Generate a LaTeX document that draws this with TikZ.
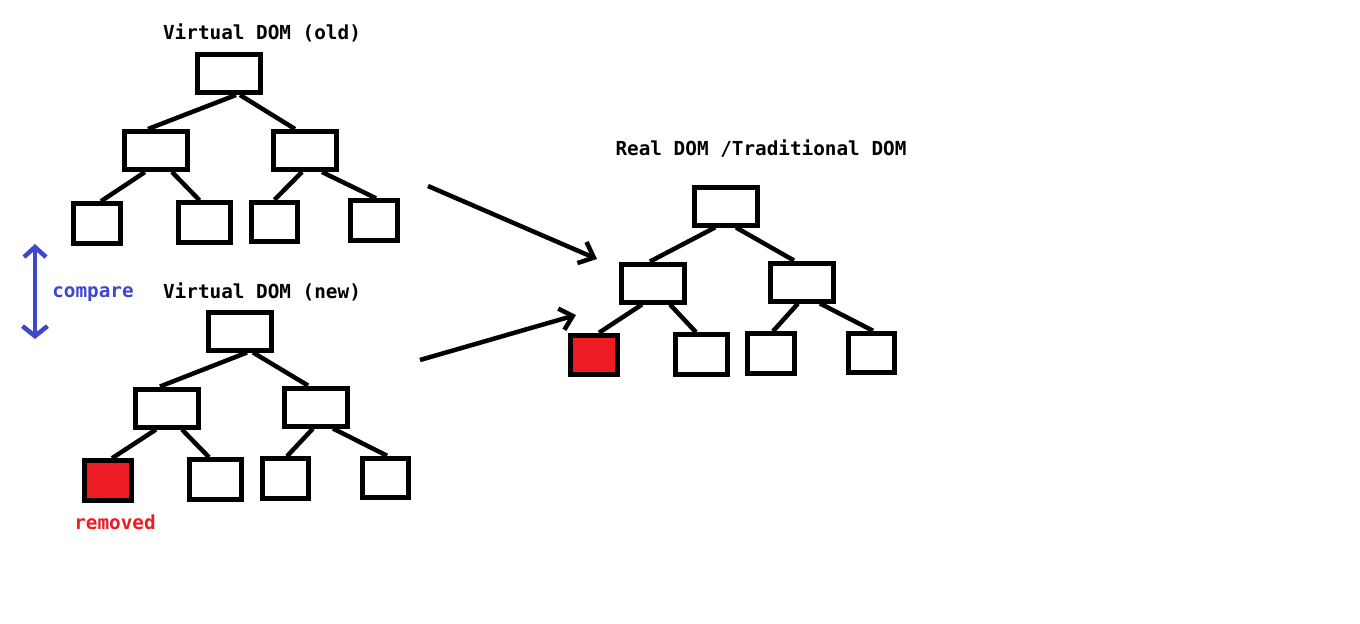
\documentclass[tikz,border=0pt]{standalone}
\usepackage{fontspec}
\setmonofont{DejaVu Sans Mono}
\usetikzlibrary{arrows.meta, positioning, calc}
\definecolor{paintred}{HTML}{ED1C24}
\definecolor{paintblue}{HTML}{3F48CC}

\begin{document}
\begin{tikzpicture}[x=0.02cm,y=-0.02cm,
		box/.style={rectangle,draw,line width=.1cm,minimum width=1.26cm,minimum height=.76cm,inner sep=0pt},
		leaf/.style={box,minimum width=.93cm,minimum height=.79cm},
		wide/.style={leaf,minimum width=1.03cm},
		gone/.style={leaf,fill=paintred},
		edge/.style={line width=.09cm},
		lbl/.style={anchor=base,font=\ttfamily\bfseries\fontsize{11}{13}\selectfont}]
		\useasboundingbox (0,0) rectangle (1360,623);
		
		% old virtual tree
		\node(o1) at (229,73.5)[box]{};
		\node(o2) at (156,150.5)[box]{};
		\node(o3) at (305,150.5)[box]{};
		\node(o4) at (97,223.5)[leaf]{};
		\node(o5) at (204.5,222.5)[wide]{};
		\node(o6) at (274.5,222)[leaf]{};
		\node(o7) at (374,220.5)[leaf]{};
		
		\draw[edge] ($(o1.south)+(7,0)$) to ($(o2.north)+(-8,0)$);
		\draw[edge] ($(o1.south)+(11,0)$) to ($(o3.north)+(-10,0)$);
		\draw[edge] ($(o2.south)+(-11,0)$) to ($(o4.north)+(4,0)$);
		\draw[edge] ($(o2.south)+(16,0)$) to ($(o5.north)+(-5,0)$);
		\draw[edge] ($(o3.south)+(-3,0)$) to (o6.north);
		\draw[edge] ($(o3.south)+(17,0)$) to ($(o7.north)+(2,0)$);
		
		% new virtual tree
		\node(n1) at (240,331)[box]{};
		\node(n2) at (167,408)[box]{};
		\node(n3) at (316,407)[box]{};
		\node(n4) at (108,480.5)[gone]{};
		\node(n5) at (215.5,479.5)[wide]{};
		\node(n6) at (285.5,478.5)[leaf]{};
		\node(n7) at (385.5,478)[leaf]{};
		
		\draw[edge] ($(n1.south)+(7,0)$) to ($(n2.north)+(-7,0)$);
		\draw[edge] ($(n1.south)+(13,0)$) to ($(n3.north)+(-8,0)$);
		\draw[edge] ($(n2.south)+(-11,0)$) to ($(n4.north)+(4,0)$);
		\draw[edge] ($(n2.south)+(15,0)$) to ($(n5.north)+(-6.5,0)$);
		\draw[edge] ($(n3.south)+(-3,0)$) to ($(n6.north)+(1.5,0)$);
		\draw[edge] ($(n3.south)+(17,0)$) to ($(n7.north)+(1.5,0)$);
		
		% real tree
		\node(r1) at (726,206)[box]{};
		\node(r2) at (653,283)[box]{};
		\node(r3) at (801.5,282)[box]{};
		\node(r4) at (594,355)[gone]{};
		\node(r5) at (701.5,354.5)[wide]{};
		\node(r6) at (771,353.5)[leaf]{};
		\node(r7) at (871.5,353)[leaf]{};
		
		\draw[edge] ($(r1.south)+(-11,0)$) to ($(r2.north)+(-3,0)$);
		\draw[edge] ($(r1.south)+(10,0)$) to ($(r3.north)+(-7.5,0)$);
		\draw[edge] ($(r2.south)+(-11,0)$) to ($(r4.north)+(5,0)$);
		\draw[edge] ($(r2.south)+(17,0)$) to ($(r5.north)+(-5.5,0)$);
		\draw[edge] ($(r3.south)+(-3.5,0)$) to ($(r6.north)+(2,0)$);
		\draw[edge] ($(r3.south)+(18.5,0)$) to ($(r7.north)+(1.5,0)$);
		
		% arrows
		\coordinate(a1) at (428,186);
		\coordinate(a2) at (597,259);
		\coordinate(b1) at (420,360);
		\coordinate(b2) at (576,315);
		\coordinate(c1) at (35,244);
		\coordinate(c2) at (35,339);
		\draw[edge,-{Straight Barb[length=.26cm,width=.46cm]}] (a1) to (a2);
		\draw[edge,-{Straight Barb[length=.24cm,width=.44cm]}] (b1) to (b2);
		\draw[edge,paintblue,{Straight Barb[length=.2cm,width=.44cm]}-{Straight Barb[length=.2cm,width=.5cm]}] (c1) to (c2);
		
		% labels
		\node(t1) at (262,39)[lbl]{Virtual DOM (old)};
		\node(t2) at (262,298)[lbl]{Virtual DOM (new)};
		\node(t3) at (761,155)[lbl]{Real DOM /Traditional DOM};
		\node(t4) at (93,297)[lbl,text=paintblue]{compare};
		\node(t5) at (115,529)[lbl,text=paintred]{removed};
		
	\end{tikzpicture}
\end{document}
